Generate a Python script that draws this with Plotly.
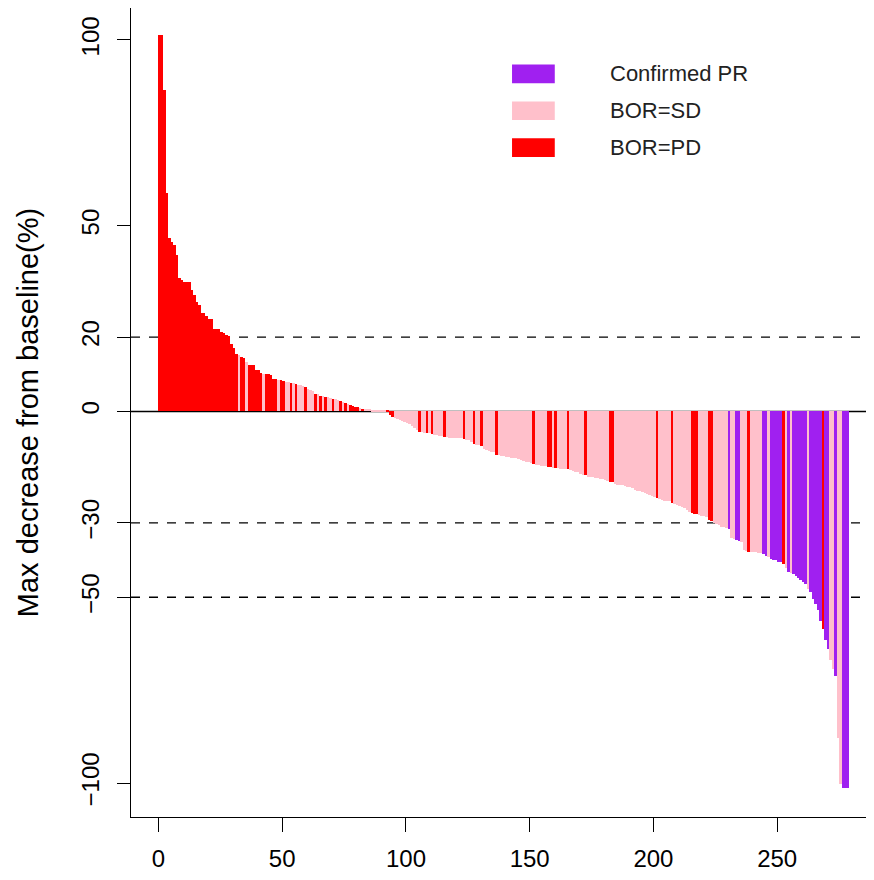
import plotly.graph_objects as go

# Max decrease from baseline (%) per patient, sorted (waterfall)
values = [
    101.3, 101.3, 86.5, 58.7, 46.6, 45.6, 44.7, 42.0, 35.8, 35.4,
    34.8, 34.8, 34.8, 32.6, 31.4, 29.5, 28.6, 26.6, 26.6, 25.7,
    24.8, 24.8, 22.1, 22.1, 22.1, 21.4, 21.0, 20.5, 20.3, 18.2,
    17.1, 15.5, 15.1, 14.6, 14.4, 13.3, 12.4, 12.4, 12.4, 11.2,
    11.2, 10.3, 10.1, 10.1, 10.1, 9.9, 8.8, 8.8, 8.6, 8.4,
    8.3, 8.0, 7.9, 7.7, 7.6, 7.5, 7.1, 7.0, 6.9, 6.7,
    6.0, 5.8, 5.6, 4.8, 4.6, 4.3, 4.2, 4.0, 3.8, 3.6,
    3.4, 3.3, 3.1, 2.8, 2.5, 2.2, 2.0, 1.7, 1.6, 1.3,
    1.2, 1.0, 0.8, 0.8, 0.7, 0.6, 0.5, 0.4, 0.4, 0.3,
    0.3, 0.2, 0.2, -0.9, -1.5, -1.8, -2.0, -2.2, -2.5, -2.8,
    -3.1, -3.3, -3.8, -4.4, -5.0, -5.5, -5.6, -5.7, -5.8, -5.9,
    -6.0, -6.2, -6.4, -6.5, -6.7, -6.9, -7.0, -7.1, -7.1, -7.1,
    -7.2, -7.2, -7.2, -7.4, -7.6, -7.8, -8.2, -8.7, -9.0, -9.1,
    -9.2, -10.2, -10.5, -10.6, -10.8, -11.0, -11.7, -11.8, -12.0, -12.1,
    -12.2, -12.3, -12.4, -12.5, -12.6, -12.8, -13.0, -13.3, -13.5, -13.7,
    -13.8, -14.1, -14.3, -14.5, -14.6, -14.7, -14.8, -15.0, -15.0, -15.1,
    -15.3, -15.3, -15.4, -15.4, -15.5, -15.6, -15.8, -16.0, -16.2, -16.4,
    -16.8, -17.0, -17.2, -17.5, -17.6, -17.7, -17.8, -18.0, -18.2, -18.3,
    -18.5, -18.7, -18.9, -19.0, -19.5, -19.7, -19.8, -19.9, -20.0, -20.2,
    -20.4, -20.6, -21.0, -21.3, -21.4, -21.6, -22.0, -22.2, -22.4, -22.8,
    -23.1, -23.4, -23.6, -23.8, -24.0, -24.1, -24.2, -24.6, -25.0, -25.2,
    -25.4, -25.6, -26.0, -26.5, -27.0, -27.4, -27.6, -27.7, -27.8, -28.0,
    -28.1, -28.3, -29.2, -29.5, -30.0, -30.3, -30.6, -31.0, -31.2, -31.4,
    -31.6, -34.0, -34.3, -34.6, -34.8, -35.2, -37.3, -37.5, -37.7, -37.8,
    -37.9, -37.9, -38.0, -38.1, -38.4, -38.8, -39.3, -39.7, -39.9, -40.1,
    -40.4, -40.6, -41.1, -42.0, -43.3, -43.5, -43.8, -44.2, -44.7, -45.3,
    -46.0, -46.5, -47.8, -48.7, -50.5, -51.9, -53.5, -56.3, -58.6, -61.5,
    -63.9, -67.0, -69.4, -71.2, -87.8, -100.4, -101.3, -101.3, -101.3,
]

# Best overall response per bar: PR = confirmed PR, SD = BOR=SD, PD = BOR=PD
response = (
    ["PD"] * 32 + ["SD"] + ["PD"] * 2 + ["SD"] + ["PD"] * 6 + ["SD"] + ["PD"] * 5
    + ["SD"] + ["PD"] * 2 + ["SD"] * 2 + ["PD"] + ["SD"] + ["PD"] + ["SD"] * 3 + ["PD"]
    + ["SD"] * 3 + ["PD"] + ["SD"] + ["PD"] + ["SD"] + ["PD"] + ["SD"] * 2 + ["PD"]
    + ["SD"] * 2 + ["PD"] + ["SD"] + ["PD"] + ["SD"] + ["PD"] * 4 + ["SD"] + ["PD"]
    + ["SD"] * 9 + ["PD"] * 3 + ["SD"] * 10 + ["PD"] + ["SD"] * 2 + ["PD"] + ["SD"]
    + ["PD"] + ["SD"] * 4 + ["PD"] + ["SD"] * 7 + ["PD"] + ["SD"] * 3 + ["PD"]
    + ["SD"] * 2 + ["PD"] + ["SD"] * 5 + ["PD"] + ["SD"] * 14 + ["PD"] + ["SD"] * 5
    + ["PD"] * 2 + ["SD"] + ["PD"] + ["SD"] * 4 + ["PD"] + ["SD"] * 6 + ["PD"]
    + ["SD"] * 9 + ["PD"] * 2 + ["SD"] * 17 + ["PD"] + ["SD"] * 5 + ["PD"]
    + ["SD"] * 7 + ["PD"] * 3 + ["SD"] * 4 + ["PD"] * 2 + ["SD"] * 6 + ["PR"]
    + ["SD"] * 2 + ["PR"] * 2 + ["SD"] * 2 + ["SD"] + ["PD"] + ["SD"] * 5 + ["PR"] * 2
    + ["SD"] + ["PR"] * 5 + ["PD"] + ["SD"] + ["PR"] + ["SD"] + ["PR"] * 6 + ["SD"]
    + ["PR"] * 5 + ["PD"] + ["PR"] * 2 + ["SD"] * 2 + ["PR"] + ["SD"] * 2 + ["PR"] * 3
)

categories = ["PR", "SD", "PD"]
labels = {"PR": "Confirmed PR", "SD": "BOR=SD", "PD": "BOR=PD"}
colors = {"PR": "#A020F0", "SD": "#FFC0CB", "PD": "#FF0000"}

y_ticks = [100, 50, 20, 0, -30, -50, -100]
x_ticks = [0, 50, 100, 150, 200, 250]
ref_lines = [20, -30, -50]

n = min(len(values), len(response))
values = values[:n]
response = response[:n]

FONT = "Liberation Sans, Arial, Helvetica, sans-serif"

fig = go.Figure()
for cat in categories:
    xs = [i + 0.5 for i in range(n) if response[i] == cat]
    ys = [values[i] for i in range(n) if response[i] == cat]
    fig.add_trace(go.Bar(
        x=xs, y=ys, width=1.0, name=labels[cat],
        marker=dict(color=colors[cat], line=dict(width=0)),
        showlegend=False,
    ))

# reference lines (under the bars)
for v in ref_lines:
    fig.add_shape(type="line", xref="paper", yref="y", x0=0, x1=1, y0=v, y1=v,
                  line=dict(color="black", width=1.3, dash="dash"), layer="below")
fig.add_shape(type="line", xref="paper", yref="y", x0=0, x1=1, y0=0, y1=0,
              line=dict(color="black", width=1.3), layer="below")

# manual legend
leg_rows = [(0.9186, "PR"), (0.8730, "SD"), (0.8274, "PD")]
for yc, cat in leg_rows:
    fig.add_shape(type="rect", xref="paper", yref="paper",
                  x0=0.517, x1=0.575, y0=yc - 0.0115, y1=yc + 0.0115,
                  fillcolor=colors[cat], line=dict(width=0))
    fig.add_annotation(xref="paper", yref="paper", x=0.647, y=yc,
                       text=labels[cat], showarrow=False, xanchor="left",
                       yanchor="middle", font=dict(family=FONT, size=22, color="#222"))

fig.update_layout(
    width=874, height=880,
    margin=dict(l=123, r=14, t=0, b=71, autoexpand=False),
    paper_bgcolor="white", plot_bgcolor="white",
    barmode="overlay", bargap=0,
    font=dict(family=FONT, color="black"),
)
fig.update_xaxes(
    range=[-11.1, 286.7], tickvals=x_ticks, ticktext=[str(t) for t in x_ticks],
    ticks="outside", ticklen=14, tickwidth=1, tickcolor="black",
    ticklabelstandoff=6,
    showgrid=False, zeroline=False, automargin=False,
    showline=True, linecolor="black", linewidth=1, mirror=True,
    tickfont=dict(family=FONT, size=24, color="black"),
)
fig.update_yaxes(
    range=[-109.15, 108.6], tickvals=y_ticks, ticktext=[str(t).replace("-", "\u2212") for t in y_ticks],
    ticks="outside", ticklen=13, tickwidth=1, tickcolor="black",
    tickangle=-90, ticklabelstandoff=8,
    showgrid=False, zeroline=False, automargin=False,
    showline=True, linecolor="black", linewidth=1, mirror=True,
    tickfont=dict(family=FONT, size=24, color="black"),
    title=dict(text="Max decrease from baseline(%)", font=dict(family=FONT, size=29, color="black"), standoff=30),
)

fig.write_html("out.html")
